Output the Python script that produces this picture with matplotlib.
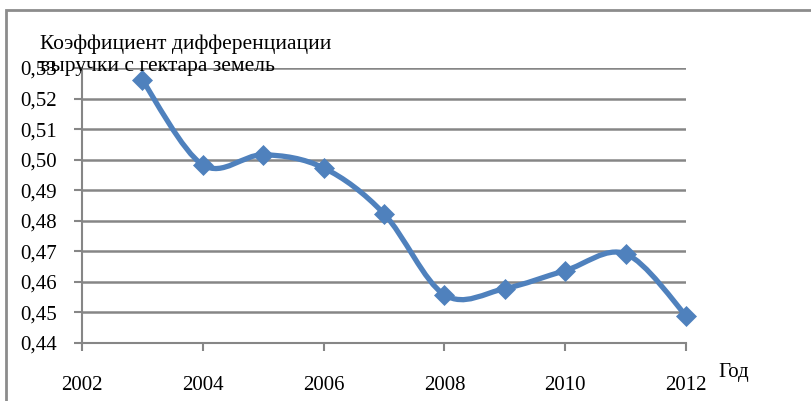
import numpy as np
import matplotlib.pyplot as plt
from matplotlib.path import Path
from matplotlib.patches import PathPatch, Rectangle

plt.rcParams['font.family'] = ['Liberation Serif', 'DejaVu Serif']

years = [2003, 2004, 2005, 2006, 2007, 2008, 2009, 2010, 2011, 2012]
coef = [0.526, 0.4983, 0.5016, 0.4973, 0.4823, 0.4558, 0.4578, 0.4637, 0.4692, 0.449]
yticks = [0.44, 0.45, 0.46, 0.47, 0.48, 0.49, 0.50, 0.51, 0.52, 0.53]
xticks = [2002, 2004, 2006, 2008, 2010, 2012]

blue = '#4F81BD'
grey = '#868686'


def smooth_path(xs, ys):
    # excel-like smoothed line as bezier segments through the points
    p = np.column_stack([xs, ys])
    verts = [p[0]]
    codes = [Path.MOVETO]
    n = len(p)
    for i in range(n - 1):
        p0 = p[i - 1] if i > 0 else p[i]
        p1 = p[i]
        p2 = p[i + 1]
        p3 = p[i + 2] if i + 2 < n else p[i + 1]
        c1 = p1 + (p2 - p0) / 6.0
        c2 = p2 - (p3 - p1) / 6.0
        verts += [c1, c2, p2]
        codes += [Path.CURVE4] * 3
    return Path(verts, codes)


fig = plt.figure(figsize=(8.12, 4.01), dpi=100)
ax = fig.add_axes([82/812, 1 - 343/401, (686-82)/812, (343-68)/401])

# outer frame of the chart
fig.patches.append(Rectangle((6/812, -0.2), 1.2, 1.2 - 10/401, transform=fig.transFigure,
                             fill=False, edgecolor='#8c8c8c', lw=2))

ax.add_patch(PathPatch(smooth_path(years, coef), fill=False, edgecolor=blue, lw=3.8,
                       capstyle='round', joinstyle='round', zorder=3))
ax.plot(years, coef, 'D', color=blue, ms=10.5, mec=blue, mew=0.5, zorder=4, clip_on=False)

ax.set_xlim(2002, 2012)
ax.set_ylim(0.44, 0.53)
ax.set_xticks(xticks)
ax.set_yticks(yticks)
ax.set_yticklabels([('%.2f' % v).replace('.', ',') for v in yticks])
ax.tick_params(axis='both', direction='out', length=6, width=1.5, color=grey, labelsize=15)
ax.tick_params(axis='y', pad=12)
ax.tick_params(axis='x', pad=18)
ax.yaxis.grid(True, color=grey, lw=1.8)
ax.set_axisbelow(True)
for s in ['top', 'right']:
    ax.spines[s].set_visible(False)
for s in ['left', 'bottom']:
    ax.spines[s].set_color(grey)
    ax.spines[s].set_linewidth(1.5)

fig.text(40/812, 1 - 35/401, 'Коэффициент дифференциации\nвыручки с гектара земель',
         fontsize=15.5, va='top', ha='left', linespacing=1.2)
fig.text(718/812, 1 - 372/401, 'Год', fontsize=15, va='center', ha='left')

fig.savefig('out.png', dpi=100)
